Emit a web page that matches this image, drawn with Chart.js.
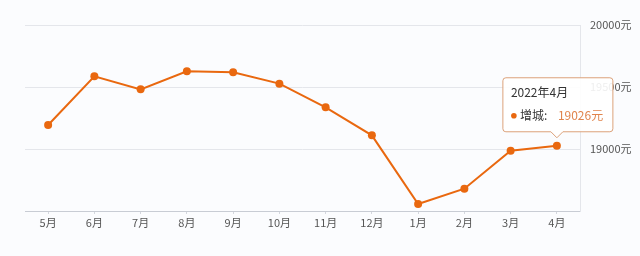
<!DOCTYPE html>
<html>
<head>
<meta charset="utf-8">
<script src="https://cdn.jsdelivr.net/npm/chart.js@4/dist/chart.umd.min.js"></script>
<style>
  html, body { margin: 0; padding: 0; background: #fbfcfe; }
  #wrap { width: 640px; height: 256px; }
</style>
</head>
<body>
<div id="wrap"><canvas id="price"></canvas></div>
<script>
// monthly average price, 增城
var months = ['5月','6月','7月','8月','9月','10月','11月','12月','1月','2月','3月','4月'];
var prices = [19194, 19586, 19481, 19627, 19619, 19527, 19336, 19110, 18556, 18680, 18986, 19026];
var yTicks = [18500, 19000, 19500, 20000];
var tipTitle = '2022年4月';
var tipName = '增城';
var tipIndex = 11;

var font = "'Noto Sans CJK SC', 'Noto Sans', sans-serif";
var orange = '#e9680f';

// background + fixed tooltip box on the last point
var tipPlugin = {
    id: 'tipBox',
    beforeDraw: function(chart) {
        var c = chart.ctx;
        c.save();
        c.fillStyle = '#fbfcfe';
        c.fillRect(0, 0, chart.width, chart.height);
        c.restore();
    },
    afterDraw: function(chart) {
        var pt = chart.getDatasetMeta(0).data[tipIndex];
        var c = chart.ctx;
        var w = 110, h = 54;
        var x = pt.x - 54, y = pt.y - h - 14;
        var r = 3;
        c.save();
        c.beginPath();
        c.moveTo(x + r, y);
        c.lineTo(x + w - r, y);
        c.quadraticCurveTo(x + w, y, x + w, y + r);
        c.lineTo(x + w, y + h - r);
        c.quadraticCurveTo(x + w, y + h, x + w - r, y + h);
        c.lineTo(pt.x + 6, y + h);
        c.lineTo(pt.x, y + h + 6);
        c.lineTo(pt.x - 6, y + h);
        c.lineTo(x + r, y + h);
        c.quadraticCurveTo(x, y + h, x, y + h - r);
        c.lineTo(x, y + r);
        c.quadraticCurveTo(x, y, x + r, y);
        c.closePath();
        c.fillStyle = 'rgba(255,255,255,0.9)';
        c.fill();
        c.strokeStyle = '#dca27a';
        c.lineWidth = 1;
        c.stroke();

        c.textBaseline = 'middle';
        c.textAlign = 'left';
        c.font = '12px ' + font;
        c.fillStyle = '#333';
        c.fillText(tipTitle, x + 8, y + 15);

        c.beginPath();
        c.arc(x + 11, y + 38, 2.8, 0, Math.PI * 2);
        c.fillStyle = orange;
        c.fill();

        c.fillStyle = '#333';
        c.fillText(tipName + ':', x + 17, y + 38);
        c.fillStyle = '#e0844c';
        c.fillText(prices[tipIndex] + '元', x + 55, y + 38);
        c.restore();
    }
};

new Chart(document.getElementById('price'), {
    type: 'line',
    data: {
        labels: months,
        datasets: [{
            data: prices,
            borderColor: orange,
            backgroundColor: orange,
            borderWidth: 2,
            pointRadius: 4,
            pointBorderWidth: 0,
            tension: 0
        }]
    },
    options: {
        responsive: true,
        maintainAspectRatio: false,
        animation: false,
        layout: { padding: { left: 25, top: 25, right: 0, bottom: 0 } },
        plugins: {
            legend: { display: false },
            tooltip: { enabled: false }
        },
        scales: {
            x: {
                offset: true,
                grid: {
                    display: true,
                    drawOnChartArea: false,
                    drawTicks: true,
                    tickLength: 3,
                    color: '#d4d7de'
                },
                border: { color: '#c8ccd4' },
                ticks: {
                    color: '#555',
                    padding: 2,
                    maxRotation: 0,
                    autoSkip: false,
                    font: { family: font, size: 11 }
                },
                afterFit: function(s) { s.height = 45; }
            },
            y: {
                position: 'right',
                min: yTicks[0],
                max: yTicks[yTicks.length - 1],
                afterBuildTicks: function(s) {
                    s.ticks = yTicks.map(function(v) { return { value: v }; });
                },
                grid: { color: '#e4e6eb', drawTicks: false },
                border: { color: '#e4e6eb' },
                ticks: {
                    color: '#555',
                    padding: 10,
                    font: { family: font, size: 11 },
                    callback: function(v) { return v === yTicks[0] ? '' : v + '元'; }
                },
                afterFit: function(s) { s.width = 60; }
            }
        }
    },
    plugins: [tipPlugin]
});
</script>
</body>
</html>
